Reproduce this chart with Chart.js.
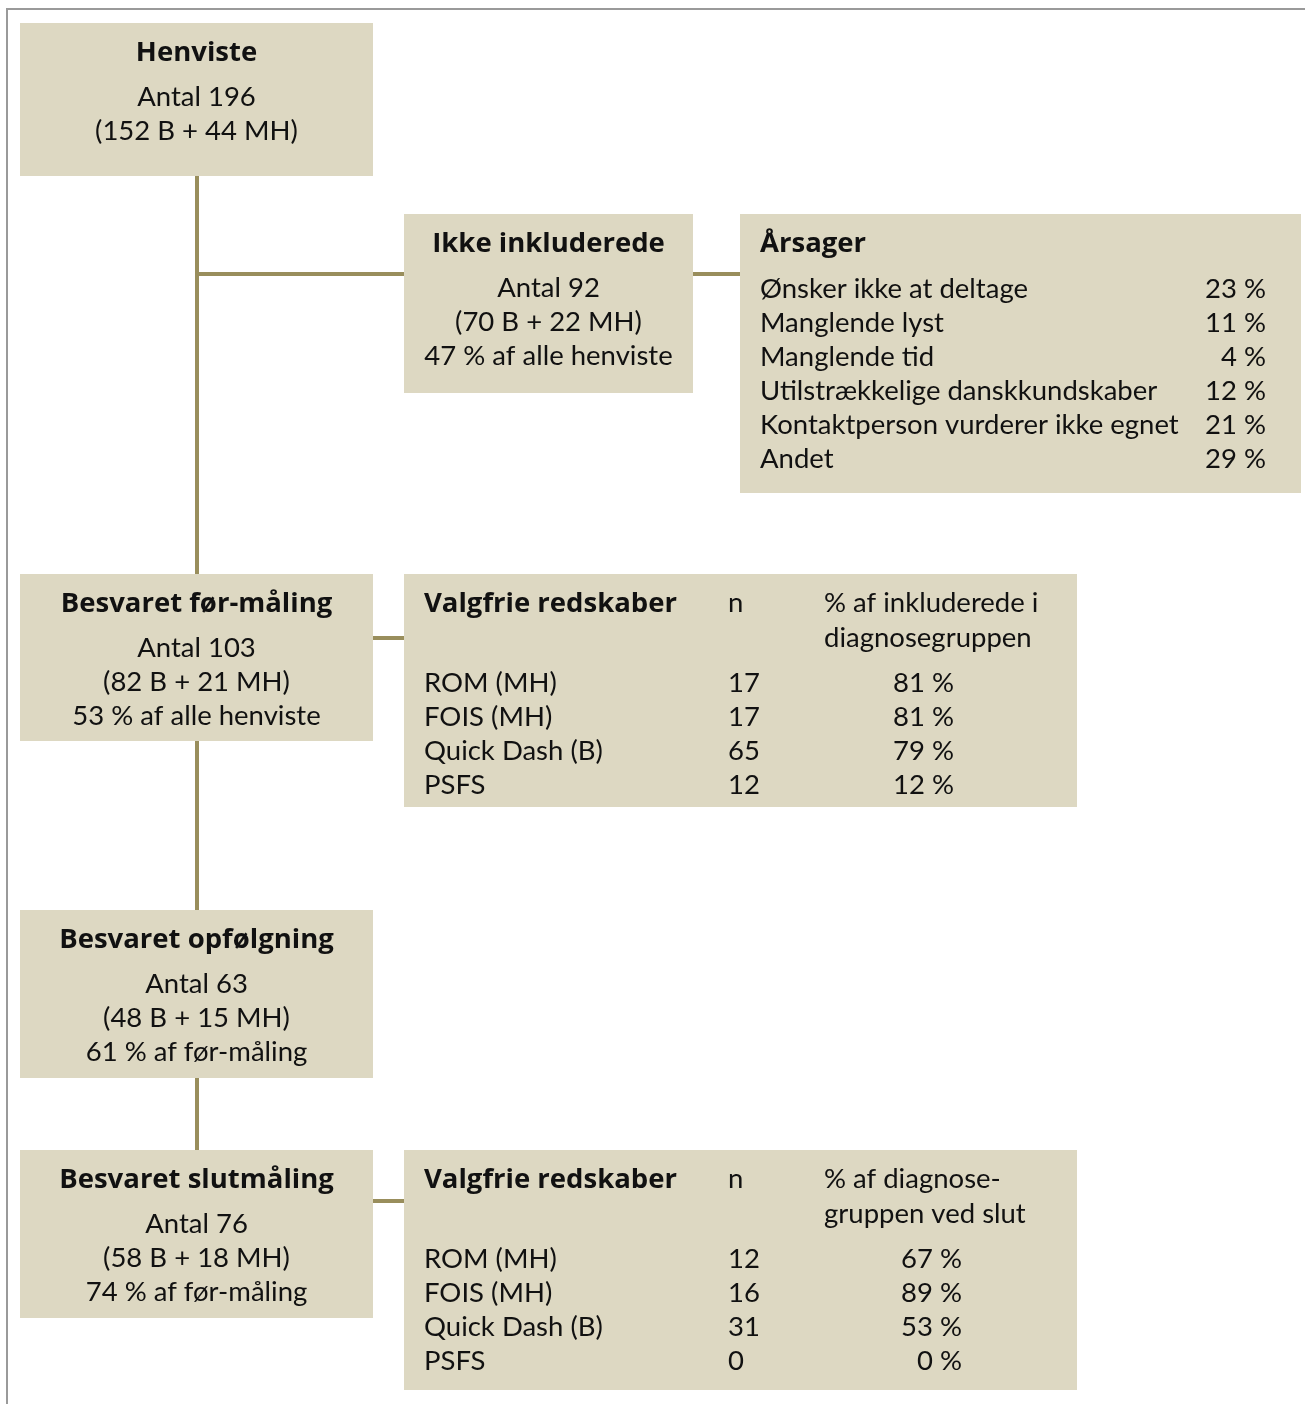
<!DOCTYPE html>
<html>
<head>
<meta charset="utf-8">
<script src="https://cdn.jsdelivr.net/npm/chart.js@4/dist/chart.umd.min.js"></script>
<style>
html,body{margin:0;padding:0;background:#fff;}
#wrap{position:relative;width:1305px;height:1404px;}
</style>
</head>
<body>
<div id="wrap"><canvas id="c" width="1305" height="1404"></canvas></div>
<script>
// ---------- DATA ----------
const nodeTitles = ['Henviste', 'Ikke inkluderede', 'Besvaret før-måling', 'Besvaret opfølgning', 'Besvaret slutmåling'];
const nodeCounts = [196, 92, 103, 63, 76];
const nodeB = [152, 70, 82, 48, 58];
const nodeMH = [44, 22, 21, 15, 18];
const nodeShare = ['', '47 % af alle henviste', '53 % af alle henviste', '61 % af før-måling', '74 % af før-måling'];

const reasonTitle = 'Årsager';
const reasonLabels = ['Ønsker ikke at deltage', 'Manglende lyst', 'Manglende tid', 'Utilstrækkelige danskkundskaber', 'Kontaktperson vurderer ikke egnet', 'Andet'];
const reasonPct = [23, 11, 4, 12, 21, 29];

const toolTitle = 'Valgfrie redskaber';
const toolNHeader = 'n';
const toolLabels = ['ROM (MH)', 'FOIS (MH)', 'Quick Dash (B)', 'PSFS'];
const toolNBefore = [17, 17, 65, 12];
const toolPctBefore = [81, 81, 79, 12];
const toolPctHeaderBefore = ['% af inkluderede i', 'diagnosegruppen'];
const toolNEnd = [12, 16, 31, 0];
const toolPctEnd = [67, 89, 53, 0];
const toolPctHeaderEnd = ['% af diagnose-', 'gruppen ved slut'];

// ---------- LAYOUT (positions in scale units) ----------
const nodeBoxes = [[20, 23, 373, 176], [404, 214, 693, 393], [20, 574, 373, 741], [20, 910, 373, 1078], [20, 1150, 373, 1318]];
const reasonBox = [740, 214, 1301, 493];
const toolBoxes = [[404, 574, 1077, 807], [404, 1150, 1077, 1390]];
const connectors = [
  [[197, 176], [197, 574]],
  [[197, 274], [404, 274]],
  [[693, 274], [740, 274]],
  [[373, 638], [404, 638]],
  [[197, 741], [197, 910]],
  [[197, 1078], [197, 1150]],
  [[373, 1201], [404, 1201]]
];

const BOX_COLOR = '#ddd8c2';
const LINE_COLOR = '#998e5c';
const TEXT_COLOR = '#111111';
const FONT = 'Lato, "Open Sans", sans-serif';
const TITLE_FONT = '"Open Sans", Lato, sans-serif';
const FS = 27.5;
const TFS = 27.5;

function nodeLines(i) {
  const arr = ['Antal ' + nodeCounts[i], '(' + nodeB[i] + ' B + ' + nodeMH[i] + ' MH)'];
  if (nodeShare[i]) arr.push(nodeShare[i]);
  return arr;
}

const flowPlugin = {
  id: 'flow',
  beforeDatasetsDraw(chart) {
    const ctx = chart.ctx;
    const xs = chart.scales.x, ys = chart.scales.y;
    const X = v => xs.getPixelForValue(v);
    const Y = v => ys.getPixelForValue(v);
    const rect = b => {
      ctx.fillStyle = BOX_COLOR;
      ctx.fillRect(X(b[0]), Y(b[1]), X(b[2]) - X(b[0]), Y(b[3]) - Y(b[1]));
    };
    ctx.save();
    // frame
    ctx.strokeStyle = '#9a9a9a';
    ctx.lineWidth = 2;
    ctx.beginPath();
    ctx.moveTo(X(7), Y(1404));
    ctx.lineTo(X(7), Y(9));
    ctx.lineTo(X(1305), Y(9));
    ctx.stroke();

    nodeBoxes.forEach(rect);
    rect(reasonBox);
    toolBoxes.forEach(rect);

    ctx.fillStyle = TEXT_COLOR;
    ctx.textBaseline = 'middle';
    const txt = (s, x, y, align, bold) => {
      ctx.font = bold ? ('bold ' + TFS + 'px ' + TITLE_FONT) : (FS + 'px ' + FONT);
      ctx.textAlign = align;
      ctx.fillText(s, X(x), Y(y));
    };

    // main nodes
    nodeBoxes.forEach((b, i) => {
      const cx = (b[0] + b[2]) / 2;
      txt(nodeTitles[i], cx, b[1] + 30, 'center', true);
      nodeLines(i).forEach((l, k) => txt(l, cx, b[1] + 74 + k * 34, 'center', false));
    });

    // reasons
    txt(reasonTitle, reasonBox[0] + 20, reasonBox[1] + 30, 'left', true);
    reasonLabels.forEach((l, k) => {
      const y = reasonBox[1] + 75 + k * 34;
      txt(l, reasonBox[0] + 20, y, 'left', false);
      txt(reasonPct[k] + ' %', 1266, y, 'right', false);
    });

    // tools
    const toolSets = [[toolNBefore, toolPctBefore, toolPctHeaderBefore, 954], [toolNEnd, toolPctEnd, toolPctHeaderEnd, 962]];
    toolBoxes.forEach((b, t) => {
      const [ns, ps, hdr, pr] = toolSets[t];
      const top = b[1];
      txt(toolTitle, b[0] + 20, top + 30, 'left', true);
      txt(toolNHeader, 728, top + 29, 'left', false);
      hdr.forEach((h, k) => txt(h, 824, top + 29 + k * 35, 'left', false));
      const rowStart = top + 109;
      toolLabels.forEach((l, k) => {
        const y = rowStart + k * 34;
        txt(l, b[0] + 20, y, 'left', false);
        txt(String(ns[k]), 728, y, 'left', false);
        txt(ps[k] + ' %', pr, y, 'right', false);
      });
    });
    ctx.restore();
  }
};

const datasets = connectors.map(c => ({
  data: c.map(p => ({ x: p[0], y: p[1] })),
  showLine: true,
  borderColor: LINE_COLOR,
  borderWidth: 4,
  pointRadius: 0,
  borderCapStyle: 'butt',
  fill: false
}));

new Chart(document.getElementById('c'), {
  type: 'scatter',
  data: { datasets },
  options: {
    responsive: false,
    devicePixelRatio: 1,
    animation: false,
    layout: { padding: 0 },
    plugins: { legend: { display: false }, tooltip: { enabled: false } },
    scales: {
      x: { type: 'linear', min: 0, max: 1305, display: false },
      y: { type: 'linear', min: 0, max: 1404, reverse: true, display: false }
    }
  },
  plugins: [flowPlugin]
});
</script>
</body>
</html>
